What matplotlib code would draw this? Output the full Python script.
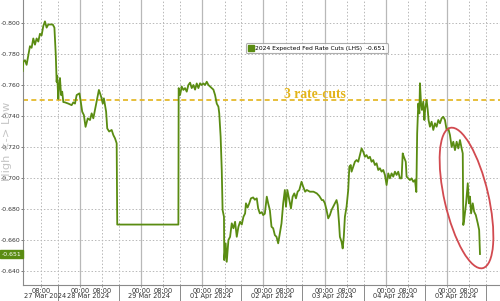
import numpy as np
import matplotlib.pyplot as plt
from matplotlib.patches import Ellipse
from matplotlib.lines import Line2D
import matplotlib.transforms as mtransforms

#Session axis: each trading day takes 22 units, 16:00 -> 00:00 -> 08:00 -> next 16:00
DAY = 22
days = ['27 Mar 2024', '28 Mar 2024', '29 Mar 2024', '01 Apr 2024',
        '02 Apr 2024', '03 Apr 2024', '04 Apr 2024', '05 Apr 2024']

#2024 Expected Fed Rate Cuts (session position, value)
t = [9.4, 9.6, 10.2, 10.8, 11.4, 12.0, 12.6, 13.2, 13.8, 14.4, 15.0, 15.6, 16.2, 16.8,
     17.4, 18.0, 18.6, 19.2, 20.2, 20.8, 21.3, 21.6, 21.8, 22.2, 22.5, 22.8, 23.2, 23.6,
     24.0, 24.6, 25.8, 27.0, 27.6, 28.2, 28.8, 29.8, 30.3, 30.8, 31.4, 32.0, 32.8, 33.6,
     34.2, 34.8, 35.4, 36.0, 36.8, 37.6, 38.2, 38.6, 39.4, 39.8, 40.5, 41.4, 42.0, 42.6,
     43.2, 43.4, 65.4, 65.5,
     66.0, 66.6, 67.2, 67.8, 68.4, 69.0, 69.6, 70.2, 70.8, 71.4, 72.0, 72.6, 73.2, 73.8,
     74.4, 75.0, 75.6, 76.2, 76.8, 77.4, 78.0, 78.6, 79.2, 79.8, 80.1, 80.6, 81.0, 81.3,
     81.8, 81.9, 82.4, 82.8, 83.4, 84.0, 84.6, 85.2, 85.8, 86.4, 87.0, 87.6, 88.2, 88.8,
     89.4, 89.7, 90.3, 90.9, 91.5, 92.3, 92.9, 93.6, 94.1, 94.7, 95.4, 95.9, 96.5, 97.2,
     97.7, 98.3, 98.9, 99.5, 100.1, 100.7, 101.3, 101.9, 102.5, 103.1, 103.7, 104.1,
     104.6, 105.3, 105.9, 106.5, 107.1, 107.7, 108.3, 108.9, 109.7, 110.3, 111.0, 111.6,
     112.7, 114.0, 115.2, 116.1, 117.0, 117.5, 118.1, 118.7, 119.3, 119.9, 120.5, 121.1,
     121.7, 122.3, 122.7, 123.2, 123.5, 124.1, 124.5, 124.9, 125.3, 125.9, 126.5, 126.9,
     127.4, 127.7, 128.3, 128.9, 129.5, 130.1, 130.7, 131.3, 131.9, 132.5, 133.1, 133.7,
     134.3, 134.9, 135.5, 136.1, 136.7, 137.3, 137.9, 138.5, 139.1, 139.7, 140.3, 140.9,
     141.5, 142.1, 142.7, 143.3, 143.9, 144.5, 145.1, 145.7, 146.1, 146.5, 147.2, 147.5,
     148.1, 148.7, 149.3, 149.9, 150.5, 151.0, 151.3, 151.7, 152.1, 152.3, 152.7, 153.0,
     153.5, 153.9, 154.2, 154.7, 155.1, 155.4, 155.9, 156.5, 157.1, 157.7, 158.3, 158.9,
     159.5, 160.1, 160.7, 161.3, 161.9, 162.5, 163.1, 163.7, 164.3, 164.9, 165.5, 166.1,
     166.7, 167.3, 167.7, 167.9, 168.2, 168.9, 169.5, 169.9, 170.3, 170.7, 171.3, 171.8,
     172.4, 173.1, 173.6, 173.9]
cuts = [-0.769, -0.775, -0.776, -0.773, -0.779, -0.785, -0.784, -0.790, -0.786, -0.790,
        -0.788, -0.793, -0.792, -0.798, -0.801, -0.797, -0.799, -0.799, -0.799, -0.797,
        -0.779, -0.762, -0.766, -0.751, -0.760, -0.7645, -0.7535, -0.7557, -0.749, -0.7488,
        -0.748, -0.747, -0.7488, -0.748, -0.7535, -0.7546, -0.749, -0.7428, -0.7406, -0.733,
        -0.7385, -0.7374, -0.7417, -0.7385, -0.7439, -0.749, -0.7568, -0.7525, -0.748, -0.7514,
        -0.7428, -0.732, -0.730, -0.731, -0.7277, -0.7256, -0.7224, -0.670, -0.670, -0.758,
        -0.7535, -0.759, -0.7568, -0.758, -0.7557, -0.760, -0.7615, -0.758, -0.760, -0.757,
        -0.761, -0.758, -0.7611, -0.760, -0.761, -0.760, -0.7621, -0.760, -0.759, -0.758,
        -0.757, -0.7535, -0.748, -0.746, -0.7417, -0.7266, -0.7052, -0.6794, -0.675, -0.6471,
        -0.6579, -0.646, -0.660, -0.6621, -0.6708, -0.6676, -0.6718, -0.6621, -0.6686, -0.6718,
        -0.670, -0.675, -0.6772, -0.6837, -0.681, -0.6837, -0.6869, -0.6875, -0.686, -0.6869,
        -0.6804, -0.6772, -0.678, -0.6761, -0.677, -0.688, -0.6837, -0.6794, -0.6686, -0.6676,
        -0.6632, -0.6621, -0.6579, -0.6643, -0.6708, -0.6837, -0.6923, -0.6815, -0.6923, -0.6858,
        -0.6804, -0.688, -0.6901, -0.6869, -0.6912, -0.6923, -0.6976, -0.6944, -0.6912, -0.6923,
        -0.6912, -0.6912, -0.6901, -0.6884, -0.6858, -0.6858, -0.6837, -0.6794, -0.674, -0.6761,
        -0.6794, -0.6815, -0.6837, -0.6858, -0.6826, -0.6708, -0.6621, -0.6589, -0.6546, -0.6621,
        -0.675, -0.6815, -0.6923, -0.7073, -0.7084, -0.7041, -0.7073, -0.7105, -0.7116, -0.7105,
        -0.7148, -0.7191, -0.717, -0.7137, -0.7148, -0.7127, -0.7137, -0.7105, -0.7116, -0.7084,
        -0.7095, -0.7052, -0.7063, -0.7041, -0.7052, -0.702, -0.6955, -0.703, -0.6998, -0.703,
        -0.7009, -0.7041, -0.702, -0.7041, -0.6998, -0.6998, -0.7159, -0.7137, -0.7105, -0.7009,
        -0.6998, -0.6987, -0.6998, -0.6976, -0.6987, -0.691, -0.7288, -0.748, -0.7417, -0.7611,
        -0.748, -0.7439, -0.7493, -0.7374, -0.7449, -0.7503, -0.7439, -0.7374, -0.7331, -0.7363,
        -0.731, -0.7353, -0.7331, -0.7374, -0.7353, -0.7385, -0.7395, -0.7374, -0.731, -0.732,
        -0.7277, -0.720, -0.7234, -0.718, -0.7234, -0.7191, -0.7245, -0.7191, -0.7159, -0.6697,
        -0.673, -0.6837, -0.6966, -0.6837, -0.688, -0.6772, -0.6837, -0.6783, -0.6761, -0.6708,
        -0.6665, -0.651]

three_cuts = -0.75
last = cuts[-1]
yticks = [-0.80, -0.78, -0.76, -0.74, -0.72, -0.70, -0.68, -0.66, -0.64]

green = '#5a8c12'
gold = '#e3b41a'
grid_c = '#b8b8b8'
fs = 4.8

fig = plt.figure(figsize=(5, 3.01), dpi=100)
ax = fig.add_axes([0.046, 0.053, 0.954, 0.947])

#grid: solid at 00:00, dotted at 08:00 and 16:00
for d in range(len(days)):
    if d > 0:
        ax.axvline(d*DAY + 8, color=grid_c, lw=0.9, zorder=0)
        ax.axvline(d*DAY, color=grid_c, lw=0.7, ls=(0, (1.5, 2)), zorder=0)
    ax.axvline(d*DAY + 16, color=grid_c, lw=0.7, ls=(0, (1.5, 2)), zorder=0)
ax.axvline(len(days)*DAY, color=grid_c, lw=0.7, ls=(0, (1.5, 2)), zorder=0)
for yv in yticks:
    ax.axhline(yv, color=grid_c, lw=0.7, ls=(0, (1.5, 2)), zorder=0)

ax.plot(t, cuts, color=green, lw=1.3, zorder=3)
ax.axhline(three_cuts, color=gold, lw=1.2, ls=(0, (3, 2)), zorder=2)
ax.text(103.4, three_cuts - 0.0038, '3 rate-cuts', color=gold, fontsize=9.8,
        fontweight='bold', family='Liberation Serif', va='center', ha='left')

ax.set_xlim(9.5, 181.1)
ax.set_ylim(-0.631, -0.8148)

#y axis
ax.set_yticks(yticks)
ax.set_yticklabels(['%.3f' % v for v in yticks], fontsize=4.4, color='#333333')
ax.tick_params(axis='y', length=1.5, width=0.6, color='#666666', pad=0.5)

#x axis: long ticks at day separators, labels at 00:00 / 08:00
ax.set_xticks([d*DAY for d in range(1, len(days) + 1)])
ax.set_xticklabels([])
ax.tick_params(axis='x', which='major', length=16, width=0.6, color='#777777')
minor_pos = []
minor_lab = []
for d in range(len(days)):
    if d > 0:
        minor_pos.append(d*DAY + 8)
        minor_lab.append('00:00')
    minor_pos.append(d*DAY + 16)
    minor_lab.append('08:00')
ax.set_xticks(minor_pos, minor=True)
ax.set_xticklabels(minor_lab, minor=True, fontsize=fs, color='#333333')
ax.tick_params(axis='x', which='minor', length=1.5, width=0.5, color='#777777', pad=0.5)

trans = mtransforms.blended_transform_factory(ax.transData, ax.transAxes)
for d, lab in enumerate(days):
    if d == 0:
        ax.text(9.7, -0.028, lab, transform=trans, fontsize=fs, color='#333333',
                ha='left', va='top')
    else:
        ax.text(d*DAY + 11, -0.028, lab, transform=trans, fontsize=fs, color='#333333',
                ha='center', va='top')

for s in ['top', 'right']:
    ax.spines[s].set_visible(False)
for s in ['left', 'bottom']:
    ax.spines[s].set_color('#8a8a8a')
    ax.spines[s].set_linewidth(0.8)

#last value tag
ytrans = mtransforms.blended_transform_factory(ax.transAxes, ax.transData)
ax.text(-0.003, last, '%.3f' % last, transform=ytrans, ha='right', va='center',
        fontsize=4.4, color='white',
        bbox=dict(boxstyle='square,pad=0.25', fc=green, ec=green))

fig.text(0.014, 0.53, 'High <-> Low', rotation=90, fontsize=8.2, color='#c4c4c4',
         ha='center', va='center', zorder=0)

#legend
h = Line2D([], [], color=green, marker='s', ls='none', markersize=4.5)
leg = ax.legend([h], ['2024 Expected Fed Rate Cuts (LHS)  %.3f' % last], loc='upper left',
                bbox_to_anchor=(0.468, 0.848), fontsize=4.3, frameon=True, fancybox=True,
                handlelength=0.8, handletextpad=0.3, borderpad=0.4, borderaxespad=0)
leg.get_frame().set_edgecolor('#9a9a9a')
leg.get_frame().set_linewidth(0.8)

#red circle around the last session
ell = Ellipse((4.665, 1.03), 0.44, 1.44, angle=13, transform=fig.dpi_scale_trans,
              fill=False, ec='#d24a50', lw=1.3, zorder=5)
fig.add_artist(ell)

fig.savefig('out.png', dpi=100)
